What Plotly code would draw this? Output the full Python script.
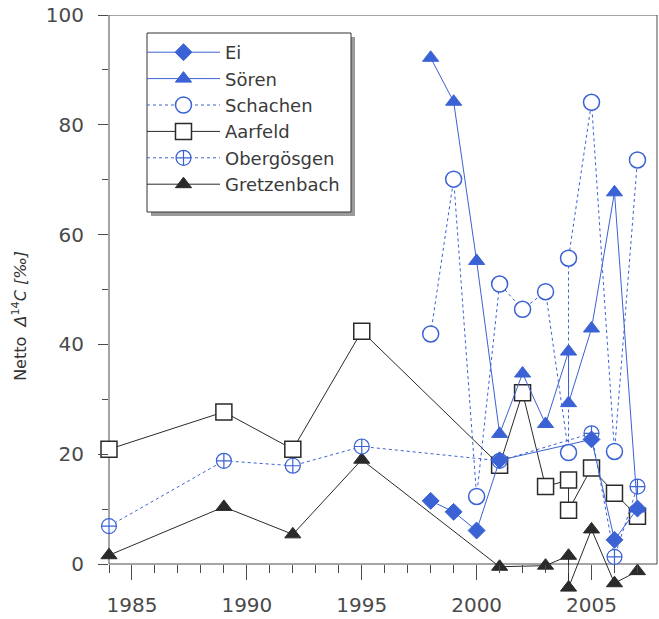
import plotly.graph_objects as go

# --- data: net Δ14C [‰] per sampling site ---------------------------------
ei_years = [1998, 1999, 2000, 2001, 2005, 2006, 2007]
ei_vals = [11.5, 9.5, 6.1, 18.9, 22.7, 4.4, 10.1]

soeren_years = [1998, 1999, 2000, 2001, 2002, 2003, 2004, 2004, 2005, 2006, 2007]
soeren_vals = [92.2, 84.2, 55.2, 23.7, 34.7, 25.5, 38.7, 29.3, 42.9, 67.7, 10.1]

schachen_years = [1998, 1999, 2000, 2001, 2002, 2003, 2004, 2004, 2005, 2006, 2007]
schachen_vals = [41.9, 70.1, 12.3, 51.0, 46.4, 49.6, 20.3, 55.7, 84.1, 20.5, 73.6]

aarfeld_years = [1984, 1989, 1992, 1995, 2001, 2002, 2003, 2004, 2004, 2005, 2006, 2007]
aarfeld_vals = [20.9, 27.7, 20.9, 42.4, 18.0, 31.2, 14.1, 15.3, 9.8, 17.5, 12.9, 8.7]

obergoesgen_years = [1984, 1989, 1992, 1995, 2001, 2005, 2006, 2007]
obergoesgen_vals = [6.9, 18.8, 17.9, 21.4, 18.8, 23.8, 1.3, 14.1]

gretzenbach_years = [1984, 1989, 1992, 1995, 2001, 2003, 2004, 2004, 2005, 2006, 2007]
gretzenbach_vals = [1.6, 10.4, 5.4, 19.0, -0.5, -0.3, 1.5, -4.3, 6.3, -3.5, -1.3]

x_ticks = [1985, 1990, 1995, 2000, 2005]
x_minor = [y for y in range(1984, 2008) if y not in x_ticks]
y_ticks = [0, 20, 40, 60, 80, 100]
y_minor = [10, 30, 50, 70, 90]

BLUE = "#3a62d4"
DARK = "#2a2a2a"
AXIS = "#4a4a4a"
FONT = "DejaVu Sans"

fig = go.Figure()


def add_series(name, xs, ys, color, dash, symbol, size, fill, rank, mline=1.5):
    fig.add_trace(go.Scatter(
        x=xs, y=ys, name=name, mode="lines+markers",
        line=dict(color=color, width=1, dash=dash),
        marker=dict(symbol=symbol, size=size, color=fill,
                    line=dict(color=color, width=mline)),
        cliponaxis=False, legendrank=rank,
    ))


# drawing order (bottom to top); legend order via legendrank
add_series("Gretzenbach", gretzenbach_years, gretzenbach_vals, DARK, "solid",
           "triangle-up", 14, DARK, 6, 1)
add_series("Aarfeld", aarfeld_years, aarfeld_vals, DARK, "solid",
           "square", 16, "white", 4)
add_series("Obergösgen", obergoesgen_years, obergoesgen_vals, BLUE, "dot",
           "circle-cross", 15, "white", 5, 1.2)
add_series("Schachen", schachen_years, schachen_vals, BLUE, "dot",
           "circle", 16, "white", 3)
add_series("Sören", soeren_years, soeren_vals, BLUE, "solid",
           "triangle-up", 14, BLUE, 2, 1)
add_series("Ei", ei_years, ei_vals, BLUE, "solid",
           "diamond", 13, BLUE, 1, 1)

# plot-area geometry (pixels) used for paper-coordinate placement
W, H = 659, 619
ML, MR, MT, MB = 109, 2, 15, 21
PW, PH = W - ML - MR, H - MT - MB
Y_LOW = -6.193
zero_pos = (0 - Y_LOW) / (100 - Y_LOW)


def px_x(px):
    return (px - ML) / PW


def px_y(py):
    return (H - MB - py) / PH


shapes = [
    # frame around the 0..100 region
    dict(type="rect", xref="paper", yref="y", x0=0, x1=1, y0=0, y1=100,
         line=dict(color=AXIS, width=1), layer="below"),
    # legend drop shadow and box
    dict(type="rect", xref="paper", yref="paper",
         x0=px_x(151), x1=px_x(355), y0=px_y(216), y1=px_y(37),
         line=dict(width=0), fillcolor="#9a9a9a", layer="above"),
    dict(type="rect", xref="paper", yref="paper",
         x0=px_x(147), x1=px_x(351), y0=px_y(212), y1=px_y(33),
         line=dict(color="#333333", width=1), fillcolor="white", layer="above"),
]

fig.update_layout(
    width=W, height=H,
    margin=dict(l=ML, r=MR, t=MT, b=MB),
    paper_bgcolor="white", plot_bgcolor="white",
    font=dict(family=FONT, color="#333333"),
    showlegend=True,
    legend=dict(
        x=px_x(142), y=px_y(34), xanchor="left", yanchor="top",
        bgcolor="rgba(0,0,0,0)", borderwidth=0,
        font=dict(family=FONT, size=18, color="#3a3a3a"),
        itemwidth=73, traceorder="normal",
    ),
    xaxis=dict(
        range=[1984, 2007.85], anchor="free", position=zero_pos,
        tickmode="array", tickvals=x_ticks,
        ticks="outside", ticklen=15, tickwidth=1, tickcolor=AXIS,
        tickfont=dict(family=FONT, size=20, color=AXIS),
        ticklabelstandoff=8,
        minor=dict(tickmode="array", tickvals=x_minor, ticks="outside",
                   ticklen=8, tickwidth=1, tickcolor=AXIS, showgrid=False),
        showline=False, showgrid=False, zeroline=False,
    ),
    yaxis=dict(
        range=[Y_LOW, 100],
        tickmode="array", tickvals=y_ticks,
        ticks="outside", ticklen=10, tickwidth=1, tickcolor=AXIS,
        tickfont=dict(family=FONT, size=20, color=AXIS),
        ticklabelstandoff=10,
        minor=dict(tickmode="array", tickvals=y_minor, ticks="outside",
                   ticklen=6, tickwidth=1, tickcolor=AXIS, showgrid=False),
        showline=False, showgrid=False, zeroline=False,
    ),
    shapes=shapes,
    annotations=[dict(
        text="Netto  <i>Δ</i><sup>14</sup><i>C [‰]</i>",
        xref="paper", yref="y", x=px_x(20), y=45.2,
        xanchor="center", yanchor="middle", textangle=-90, showarrow=False,
        font=dict(family=FONT, size=16, color="#333333"),
    )],
)

fig.write_html("out.html")
